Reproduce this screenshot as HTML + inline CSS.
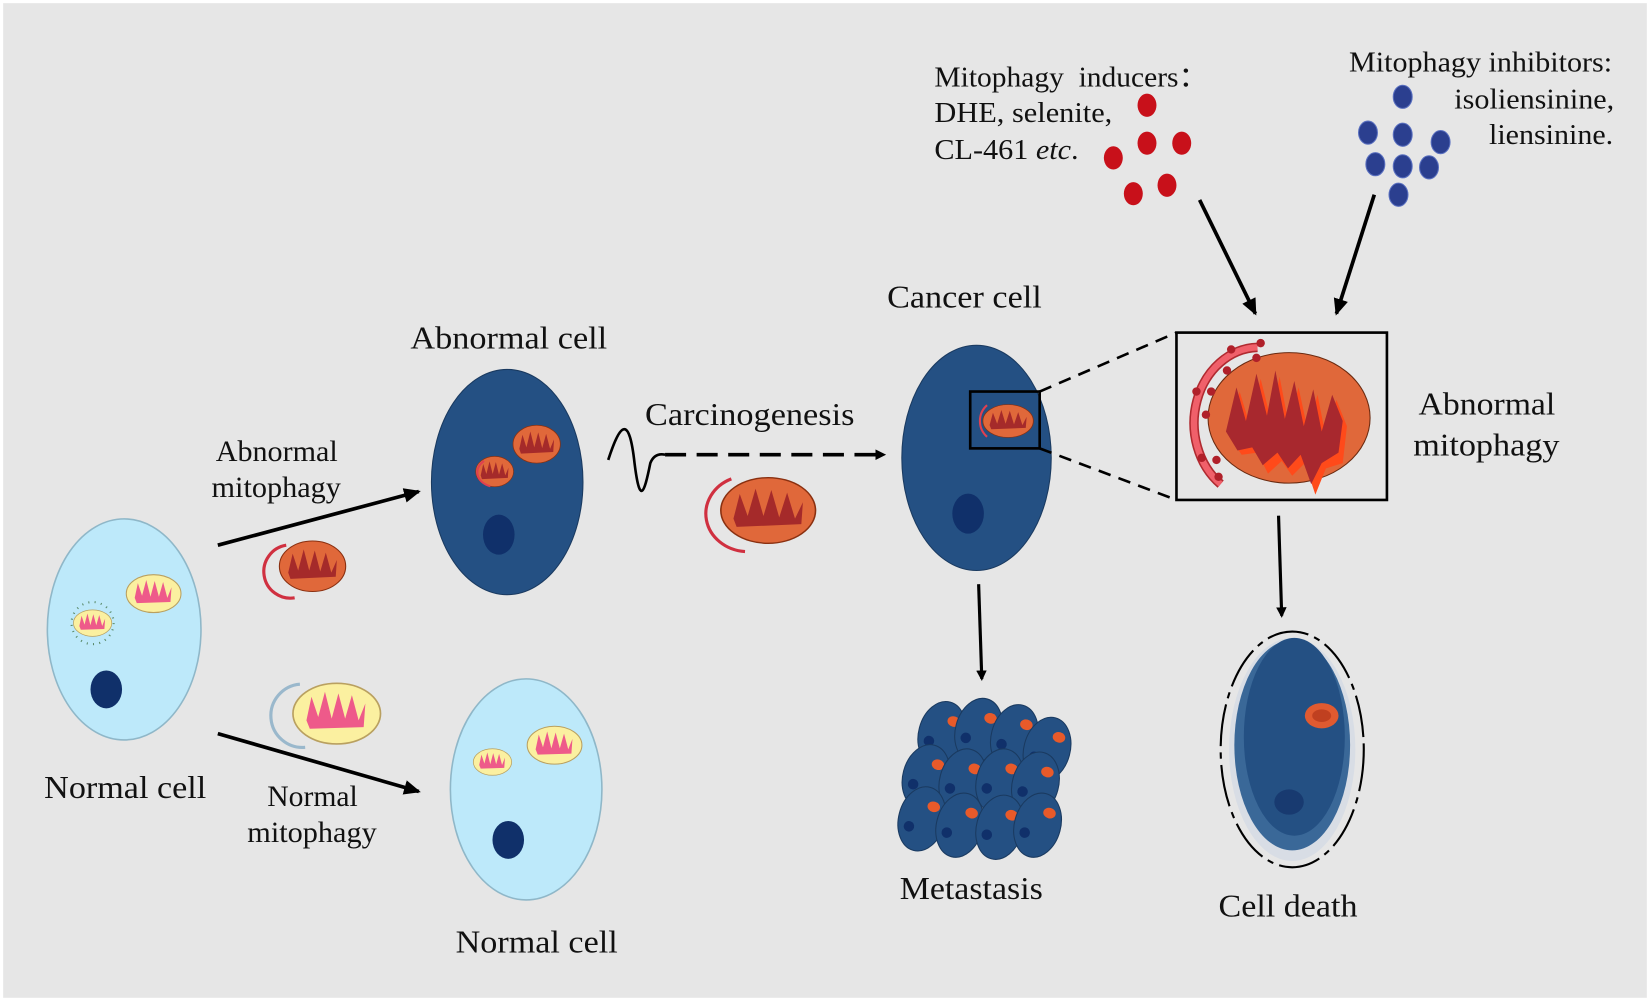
<!DOCTYPE html>
<html><head><meta charset="utf-8"><style>
html,body{margin:0;padding:0;background:#fff;}
svg{display:block;}
text{font-family:"Liberation Serif",serif;fill:#111;}
</style></head><body>
<svg width="1650" height="1002" viewBox="0 0 1568 952" preserveAspectRatio="none" xmlns="http://www.w3.org/2000/svg">
<defs>
<marker id="ah" markerWidth="10" markerHeight="10" refX="8" refY="5" orient="auto" markerUnits="userSpaceOnUse"><path d="M0,0 L10,5 L0,10 z" fill="#000"/></marker>
<marker id="ah2" markerWidth="16" markerHeight="14" refX="14" refY="7" orient="auto" markerUnits="userSpaceOnUse"><path d="M0,0 L16,7 L0,14 z" fill="#000"/></marker>
<g id="mitoY"><ellipse cx="0" cy="0" rx="26" ry="18" fill="#fbf0a0" stroke="#b9a060" stroke-width="1"/><path d="M-18,4 L-15,-10 L-11,2 L-7,-13 L-3,3 L1,-12 L5,3 L9,-11 L13,4 L17,-6 L16,8 L-16,9 z" fill="#ee5a8a"/></g>
<g id="mitoO"><ellipse cx="0" cy="0" rx="30" ry="24" fill="#e0683a" stroke="#8a3010" stroke-width="1"/><path d="M-22,6 L-18,-12 L-13,4 L-8,-16 L-3,4 L2,-15 L7,5 L12,-13 L17,6 L22,-6 L21,10 L-20,12 z" fill="#a52a2a"/></g>
<g id="mc"><ellipse cx="0" cy="0" rx="22" ry="31" fill="#245083" stroke="#1a3a60" stroke-width="1"/><ellipse cx="8" cy="-14" rx="6" ry="5" fill="#e85a2a"/><circle cx="-10" cy="10" r="5" fill="#10306a"/></g>
</defs>
<rect x="0" y="0" width="1568" height="952" fill="#fff"/>
<rect x="3" y="3" width="1562" height="945" fill="#e6e6e6"/>

<!-- Normal cell left -->
<ellipse cx="118" cy="598" rx="73" ry="105" fill="#bde9fa" stroke="#8fb7c8" stroke-width="1.5"/>
<use href="#mitoY" transform="translate(146,564)"/>
<use href="#mitoY" transform="translate(88,592) scale(0.7)"/>
<circle cx="88" cy="592" r="20" fill="none" stroke="#5a8a6a" stroke-dasharray="1,5" stroke-width="2"/>
<ellipse cx="101" cy="655" rx="15" ry="18" fill="#10306a"/>
<text x="42" y="758" font-size="30" textLength="154" lengthAdjust="spacingAndGlyphs">Normal cell</text>

<!-- Abnormal cell -->
<ellipse cx="482" cy="458" rx="72" ry="107" fill="#245083" stroke="#1a3a60" stroke-width="1"/>
<use href="#mitoO" transform="translate(510,422) scale(0.75)"/>
<use href="#mitoO" transform="translate(470,448) scale(0.6)"/>
<path d="M460,438 A18,14 0 0 0 466,462" fill="none" stroke="#e04050" stroke-width="2"/>
<ellipse cx="474" cy="508" rx="15" ry="19" fill="#10306a"/>
<text x="390" y="331" font-size="30" textLength="187" lengthAdjust="spacingAndGlyphs">Abnormal cell</text>

<!-- arrows left -->
<line x1="207" y1="518" x2="398" y2="467" stroke="#000" stroke-width="3.5" marker-end="url(#ah2)"/>
<text x="205" y="438" font-size="28" textLength="116" lengthAdjust="spacingAndGlyphs">Abnormal</text>
<text x="201" y="472" font-size="28" textLength="123" lengthAdjust="spacingAndGlyphs">mitophagy</text>
<use href="#mitoO" transform="translate(297,538) scale(1.05,1)"/>
<path d="M272,518 A25,25 0 0 0 280,568" fill="none" stroke="#d03040" stroke-width="3"/>
<line x1="207" y1="697" x2="398" y2="752" stroke="#000" stroke-width="3.5" marker-end="url(#ah2)"/>
<text x="254" y="766" font-size="28" textLength="86" lengthAdjust="spacingAndGlyphs">Normal</text>
<text x="235" y="800" font-size="28" textLength="123" lengthAdjust="spacingAndGlyphs">mitophagy</text>
<use href="#mitoY" transform="translate(320,678) scale(1.6,1.6)"/>
<path d="M285,650 A30,30 0 0 0 290,710" fill="none" stroke="#9ab8cc" stroke-width="3"/>

<!-- Normal cell bottom -->
<ellipse cx="500" cy="750" rx="72" ry="105" fill="#bde9fa" stroke="#8fb7c8" stroke-width="1.5"/>
<use href="#mitoY" transform="translate(527,708)"/>
<use href="#mitoY" transform="translate(468,724) scale(0.7)"/>
<ellipse cx="483" cy="798" rx="15" ry="18" fill="#10306a"/>
<text x="433" y="905" font-size="30" textLength="154" lengthAdjust="spacingAndGlyphs">Normal cell</text>

<!-- Carcinogenesis -->
<text x="613" y="404" font-size="30" textLength="199" lengthAdjust="spacingAndGlyphs">Carcinogenesis</text>
<path d="M578,437 C590,400 598,395 603,440 C608,480 612,470 618,440 Q622,430 632,432" fill="none" stroke="#000" stroke-width="2.5"/>
<line x1="632" y1="432" x2="840" y2="432" stroke="#000" stroke-width="3.5" stroke-dasharray="20,10" marker-end="url(#ah)"/>
<use href="#mitoO" transform="translate(730,485) scale(1.5,1.3)"/>
<path d="M695,455 A40,36 0 0 0 708,524" fill="none" stroke="#d03040" stroke-width="3"/>

<!-- Cancer cell -->
<text x="843" y="292" font-size="30" textLength="147" lengthAdjust="spacingAndGlyphs">Cancer cell</text>
<ellipse cx="928" cy="435" rx="71" ry="107" fill="#245083" stroke="#1a3a60" stroke-width="1"/>
<rect x="922" y="372" width="66" height="54" fill="none" stroke="#000" stroke-width="2.5"/>
<use href="#mitoO" transform="translate(958,400) scale(0.8,0.65)"/>
<path d="M938,385 A20,20 0 0 0 938,415" fill="none" stroke="#e04050" stroke-width="2"/>
<ellipse cx="920" cy="488" rx="15" ry="19" fill="#10306a"/>
<line x1="988" y1="372" x2="1118" y2="316" stroke="#000" stroke-width="2.5" stroke-dasharray="12,8"/>
<line x1="988" y1="426" x2="1118" y2="475" stroke="#000" stroke-width="2.5" stroke-dasharray="12,8"/>

<!-- Zoom box -->
<rect x="1118" y="316" width="200" height="159" fill="none" stroke="#000" stroke-width="2.5"/>
<ellipse cx="1225" cy="397" rx="77" ry="62" fill="#e0683a" stroke="#6a2a10" stroke-width="1"/>
<path d="M1168,415 L1178,372 L1188,405 L1198,360 L1208,400 L1216,358 L1225,405 L1234,368 L1243,410 L1252,375 L1260,415 L1270,380 L1280,405 L1276,440 L1260,445 L1250,470 L1240,440 L1228,452 L1218,438 L1205,450 L1195,430 L1180,432 z" fill="#ff4a1a"/>
<path d="M1165,410 L1175,368 L1184,400 L1194,355 L1204,395 L1212,352 L1221,398 L1230,362 L1239,405 L1248,370 L1256,410 L1266,375 L1276,400 L1272,430 L1256,440 L1246,460 L1236,432 L1224,445 L1214,430 L1200,442 L1190,425 L1176,428 z" fill="#a8282e"/>
<path d="M1195,330 A62,72 0 0 0 1160,460" fill="none" stroke="#b02a30" stroke-width="9"/>
<path d="M1195,330 A62,72 0 0 0 1160,460" fill="none" stroke="#f0606a" stroke-width="6"/>
<g fill="#b0202a"><circle cx="1198" cy="326" r="4"/><circle cx="1194" cy="340" r="4"/><circle cx="1170" cy="332" r="4"/><circle cx="1166" cy="352" r="4"/><circle cx="1137" cy="372" r="4"/><circle cx="1151" cy="372" r="4"/><circle cx="1146" cy="394" r="4"/><circle cx="1142" cy="435" r="4"/><circle cx="1156" cy="437" r="4"/><circle cx="1158" cy="453" r="4"/></g>
<text x="1348" y="394" font-size="30" textLength="130" lengthAdjust="spacingAndGlyphs">Abnormal</text>
<text x="1343" y="433" font-size="30" textLength="139" lengthAdjust="spacingAndGlyphs">mitophagy</text>

<!-- inducers / inhibitors -->
<text x="888" y="82" font-size="27" textLength="260" lengthAdjust="spacingAndGlyphs" xml:space="preserve">Mitophagy  inducers：</text>
<text x="888" y="116" font-size="27" textLength="169" lengthAdjust="spacingAndGlyphs">DHE, selenite,</text>
<text x="888" y="151" font-size="27" textLength="137" lengthAdjust="spacingAndGlyphs">CL-461 <tspan font-style="italic">etc</tspan>.</text>
<g fill="#c8101a"><ellipse cx="1090" cy="100" rx="9" ry="11"/><ellipse cx="1090" cy="136" rx="9" ry="11"/><ellipse cx="1123" cy="136" rx="9" ry="11"/><ellipse cx="1058" cy="150" rx="9" ry="11"/><ellipse cx="1077" cy="184" rx="9" ry="11"/><ellipse cx="1109" cy="176" rx="9" ry="11"/></g>
<text x="1282" y="68" font-size="27" textLength="250" lengthAdjust="spacingAndGlyphs">Mitophagy inhibitors:</text>
<text x="1382" y="103" font-size="27" textLength="152" lengthAdjust="spacingAndGlyphs">isoliensinine,</text>
<text x="1415" y="137" font-size="27" textLength="118" lengthAdjust="spacingAndGlyphs">liensinine.</text>
<g fill="#2b3f8f" stroke="#5a70c0" stroke-width="1"><ellipse cx="1333" cy="92" rx="9" ry="11"/><ellipse cx="1300" cy="126" rx="9" ry="11"/><ellipse cx="1333" cy="128" rx="9" ry="11"/><ellipse cx="1369" cy="135" rx="9" ry="11"/><ellipse cx="1307" cy="156" rx="9" ry="11"/><ellipse cx="1333" cy="158" rx="9" ry="11"/><ellipse cx="1358" cy="159" rx="9" ry="11"/><ellipse cx="1329" cy="185" rx="9" ry="11"/></g>
<line x1="1140" y1="190" x2="1193" y2="298" stroke="#000" stroke-width="3.5" marker-end="url(#ah2)"/>
<line x1="1306" y1="185" x2="1270" y2="298" stroke="#000" stroke-width="3.5" marker-end="url(#ah2)"/>
<line x1="930" y1="555" x2="933" y2="645" stroke="#000" stroke-width="3" marker-end="url(#ah)"/>
<line x1="1215" y1="490" x2="1218" y2="585" stroke="#000" stroke-width="3" marker-end="url(#ah)"/>

<!-- Metastasis -->
<use href="#mc" transform="translate(895,697) rotate(15)"/>
<use href="#mc" transform="translate(930,694) rotate(15)"/>
<use href="#mc" transform="translate(964,700) rotate(15)"/>
<use href="#mc" transform="translate(995,712) rotate(15)"/>
<use href="#mc" transform="translate(880,738) rotate(15)"/>
<use href="#mc" transform="translate(915,742) rotate(15)"/>
<use href="#mc" transform="translate(950,742) rotate(15)"/>
<use href="#mc" transform="translate(984,745) rotate(15)"/>
<use href="#mc" transform="translate(876,778) rotate(15)"/>
<use href="#mc" transform="translate(912,784) rotate(15)"/>
<use href="#mc" transform="translate(950,786) rotate(15)"/>
<use href="#mc" transform="translate(986,784) rotate(15)"/>
<text x="855" y="854" font-size="30" textLength="136" lengthAdjust="spacingAndGlyphs">Metastasis</text>

<!-- Cell death -->
<ellipse cx="1228" cy="712" rx="68" ry="112" fill="none" stroke="#000" stroke-width="2" stroke-dasharray="40,6,6,6"/>
<ellipse cx="1228" cy="712" rx="60" ry="106" fill="#d8dde5"/>
<ellipse cx="1228" cy="708" rx="55" ry="100" fill="#3a6898"/>
<ellipse cx="1230" cy="700" rx="48" ry="94" fill="#245083"/>
<ellipse cx="1256" cy="680" rx="16" ry="12" fill="#e05a30"/>
<ellipse cx="1256" cy="680" rx="9" ry="6" fill="#c04020"/>
<ellipse cx="1225" cy="762" rx="14" ry="12" fill="#183a70"/>
<text x="1158" y="871" font-size="30" textLength="132" lengthAdjust="spacingAndGlyphs">Cell death</text>
</svg>
</body></html>
